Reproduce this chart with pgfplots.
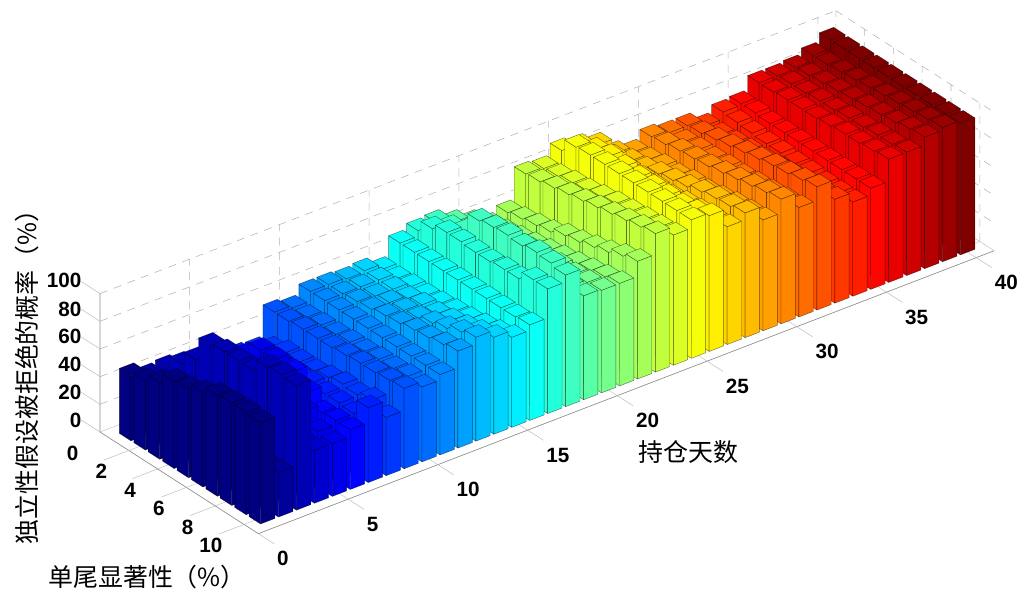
\documentclass[border=0pt]{standalone}
\usepackage{fontspec}
\setmainfont{Liberation Sans}
\newfontfamily\cjk{Noto Sans CJK SC}
\usepackage{pgfplots}
\pgfplotsset{compat=1.18}
\pgfplotsset{colormap={matjet}{rgb=(0,0,.5) rgb=(0,0,1) rgb=(0,.5,1) rgb=(0,1,1) rgb=(.5,1,.5) rgb=(1,1,0) rgb=(1,.5,0) rgb=(1,0,0) rgb=(.5,0,0)}}
\def\allc{}
\foreach \yy/\vals in {
40/{95,95,95,95,95,95,95,95,95,95},
39/{89,89,90,91,92,93,94,95,96,97},
38/{85,86,87,88,89,90,91,92,94,95},
37/{84,85,85,86,86,87,87,88,88,89},
36/{84,84,85,85,85,86,87,87,88,89},
35/{74,74,73,73,73,73,73,73,73,73},
34/{73,72,71,70,70,69,69,68,68,68},
33/{68,68,69,70,70,71,72,73,74,75},
32/{73,74,76,78,80,82,84,85,87,89},
31/{73,73,74,74,75,75,76,77,78,79},
30/{75,76,78,79,80,82,84,86,88,90},
29/{69,70,72,72,74,74,76,78,79,80},
28/{73,74,75,78,80,82,85,87,88,90},
27/{84,82,80,80,80,80,82,83,84,85},
26/{88,92,94,93,92,92,92,92,94,98},
25/{90,99,100,100,100,100,100,100,100,100},
24/{82,83,85,86,88,90,91,92,93,94},
23/{83,84,86,88,90,92,94,96,98,100},
22/{60,62,64,66,70,72,75,78,82,85},
21/{56,58,60,62,64,66,68,70,72,74},
20/{63,64,66,68,70,70,72,72,73,74},
19/{68,68,70,72,73,73,74,74,75,75},
18/{73,76,80,94,96,97,96,98,97,95},
17/{72,80,84,84,83,83,84,84,90,90},
16/{68,68,68,68,68,68,68,68,68,69},
15/{54,54,55,55,56,57,58,60,62,65},
14/{58,58,58,58,60,60,62,64,67,70},
13/{57,58,58,60,61,62,65,68,72,75},
12/{58,58,59,60,62,63,65,66,68,70},
11/{58,58,58,58,58,58,58,58,58,58},
10/{51,51,52,52,53,53,54,54,55,54},
9/{53,53,54,54,54,55,56,56,57,58},
8/{31,38,42,42,42,44,46,45,48,42},
7/{32,36,40,44,45,45,44,44,43,54},
6/{38,40,45,50,58,58,50,42,43,43},
5/{38,40,45,62,72,72,60,48,40,38},
4/{40,40,42,45,45,42,40,38,38,38},
3/{43,52,62,79,81,81,81,90,91,90},
2/{42,44,40,38,38,38,36,34,32,32},
1/{47,50,55,63,64,68,73,74,74,73}}{
  \pgfmathsetmacro\tt{(\yy-1)/39*8}
  \pgfmathsetmacro\ya{\yy-0.4}
  \pgfmathsetmacro\yb{\yy+0.4}
  \foreach \hh [count=\xx] in \vals {
    \pgfmathsetmacro\xa{\xx-0.4}
    \pgfmathsetmacro\xb{\xx+0.4}
    \xdef\allc{\allc
      (\xa,\ya,\hh)[\tt] (\xb,\ya,\hh)[\tt] (\xb,\yb,\hh)[\tt] (\xa,\yb,\hh)[\tt]
      (\xa,\ya,0)[\tt] (\xb,\ya,0)[\tt] (\xb,\ya,\hh)[\tt] (\xa,\ya,\hh)[\tt]
      (\xb,\ya,0)[\tt] (\xb,\yb,0)[\tt] (\xb,\yb,\hh)[\tt] (\xb,\ya,\hh)[\tt]
    }
  }
}
\begin{document}
\begin{tikzpicture}
\useasboundingbox (0,0) rectangle (771.75pt,445.5pt);
\begin{axis}[
  at={(75pt,121.5pt)}, anchor=origin,
  x={(10.8pt,-6.93pt)}, y={(13.46pt,5.175pt)}, z={(0pt,1.038pt)},
  xmin=0,xmax=11,ymin=0,ymax=41,zmin=0,zmax=100,
  clip=false,
  axis line style={draw=none},
  major tick length=0pt,
  xtick={0,2,...,10}, ytick={0,5,...,40}, ztick={0,20,...,100},
  tick label style={font=\bfseries\fontsize{15.5}{16}\selectfont},
  xticklabel style={anchor=east,xshift=-12.75pt,yshift=-15.75pt},
  yticklabel style={anchor=west,xshift=10.5pt,yshift=-18.75pt},
  zticklabel style={xshift=-10.5pt,yshift=8pt},
  /pgf/number format/assume math mode=true,
  xlabel={\cjk 单尾显著性（\%）},
  ylabel={\cjk 持仓天数},
  zlabel={\cjk 独立性假设被拒绝的概率（\%）},
  xlabel style={at={(axis cs:11.03,-6.23,0)},anchor=center,rotate=0,font=\fontsize{18.7}{19}\selectfont},
  ylabel style={at={(axis cs:16.66,19.4,0)},anchor=center,rotate=0,font=\fontsize{18.7}{19}\selectfont},
  zlabel style={at={(axis cs:-6.03,0.776,0)},anchor=center,rotate=0,font=\fontsize{18.7}{19}\selectfont},
]
% floor grid
\addplot3[no markers,gray!45,line width=0.4pt,unbounded coords=jump] coordinates {
 (2,0,0)(2,41,0) (nan,nan,nan) (4,0,0)(4,41,0) (nan,nan,nan) (6,0,0)(6,41,0) (nan,nan,nan) (8,0,0)(8,41,0) (nan,nan,nan) (10,0,0)(10,41,0) (nan,nan,nan)
 (0,5,0)(11,5,0) (nan,nan,nan) (0,10,0)(11,10,0) (nan,nan,nan) (0,15,0)(11,15,0) (nan,nan,nan) (0,20,0)(11,20,0) (nan,nan,nan) (0,25,0)(11,25,0) (nan,nan,nan) (0,30,0)(11,30,0) (nan,nan,nan) (0,35,0)(11,35,0) (nan,nan,nan) (0,40,0)(11,40,0) (nan,nan,nan)
 (0,0,0)(0,41,0) (nan,nan,nan) (0,41,0)(11,41,0)
};
% wall grid
\addplot3[no markers,gray!60,line width=0.4pt,dash pattern=on 6pt off 5pt,unbounded coords=jump] coordinates {
 (0,0,20)(0,41,20) (nan,nan,nan) (0,0,40)(0,41,40) (nan,nan,nan) (0,0,60)(0,41,60) (nan,nan,nan) (0,0,80)(0,41,80) (nan,nan,nan) (0,0,100)(0,41,100) (nan,nan,nan)
 (0,41,20)(11,41,20) (nan,nan,nan) (0,41,40)(11,41,40) (nan,nan,nan) (0,41,60)(11,41,60) (nan,nan,nan) (0,41,80)(11,41,80) (nan,nan,nan) (0,41,100)(11,41,100) (nan,nan,nan)
 (0,5,0)(0,5,100) (nan,nan,nan) (0,10,0)(0,10,100) (nan,nan,nan) (0,15,0)(0,15,100) (nan,nan,nan) (0,20,0)(0,20,100) (nan,nan,nan) (0,25,0)(0,25,100) (nan,nan,nan) (0,30,0)(0,30,100) (nan,nan,nan) (0,35,0)(0,35,100) (nan,nan,nan) (0,40,0)(0,40,100) (nan,nan,nan) (0,41,0)(0,41,100) (nan,nan,nan)
 (2,41,0)(2,41,100) (nan,nan,nan) (4,41,0)(4,41,100) (nan,nan,nan) (6,41,0)(6,41,100) (nan,nan,nan) (8,41,0)(8,41,100) (nan,nan,nan) (10,41,0)(10,41,100)
};
% axis lines
\addplot3[no markers,gray!90,line width=0.5pt,unbounded coords=jump] coordinates {
 (0,0,0)(0,0,100) (nan,nan,nan) (0,0,0)(11,0,0) (nan,nan,nan) (11,0,0)(11,41,0)
};
% ticks
\addplot3[no markers,gray!50,line width=0.4pt,unbounded coords=jump] coordinates {
 (0,0,0)(-1.3,0,0) (nan,nan,nan) (0,0,20)(-1.3,0,20) (nan,nan,nan) (0,0,40)(-1.3,0,40) (nan,nan,nan) (0,0,60)(-1.3,0,60) (nan,nan,nan) (0,0,80)(-1.3,0,80) (nan,nan,nan) (0,0,100)(-1.3,0,100) (nan,nan,nan)
 (2,0,0)(2,-1.4,0) (nan,nan,nan) (4,0,0)(4,-1.4,0) (nan,nan,nan) (6,0,0)(6,-1.4,0) (nan,nan,nan) (8,0,0)(8,-1.4,0) (nan,nan,nan) (10,0,0)(10,-1.4,0) (nan,nan,nan)
 (11,0,0)(12.1,0,0) (nan,nan,nan) (11,5,0)(12.1,5,0) (nan,nan,nan) (11,10,0)(12.1,10,0) (nan,nan,nan) (11,15,0)(12.1,15,0) (nan,nan,nan) (11,20,0)(12.1,20,0) (nan,nan,nan) (11,25,0)(12.1,25,0) (nan,nan,nan) (11,30,0)(12.1,30,0) (nan,nan,nan) (11,35,0)(12.1,35,0) (nan,nan,nan) (11,40,0)(12.1,40,0)
};
\edef\doplot{\noexpand\addplot3[patch,patch type=rectangle,shader=faceted,colormap name=matjet,
  point meta=explicit,point meta min=0,point meta max=8,z buffer=none,
  faceted color=black,draw opacity=0.55,line width=0.3pt]
  coordinates {\allc};}
\doplot
\end{axis}
\end{tikzpicture}
\end{document}
